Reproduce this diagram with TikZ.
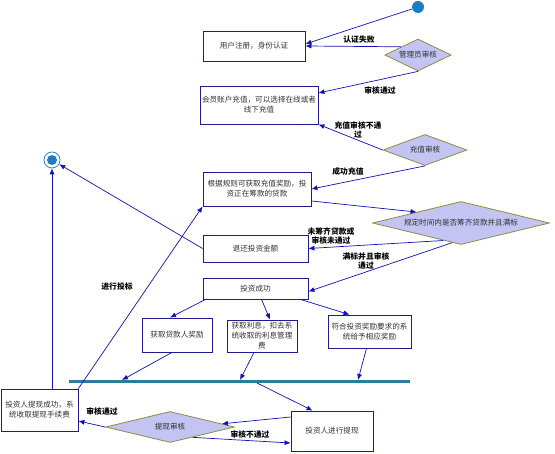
\documentclass[tikz,border=0pt]{standalone}
\usepackage{fontspec}
\setmainfont{Noto Sans CJK SC}
\usetikzlibrary{arrows.meta,shapes.geometric,calc}
\definecolor{boxline}{HTML}{1C1C8E}
\definecolor{arrline}{HTML}{1010B8}
\definecolor{diafill}{HTML}{C4C4F2}
\definecolor{dialine}{HTML}{8C8C46}
\definecolor{dotblue}{HTML}{1E7CC4}
\definecolor{barteal}{HTML}{2C7C9C}
\definecolor{txtgray}{HTML}{303030}

\begin{document}
\begin{tikzpicture}[x=1pt,y=-1pt,
  box/.style={draw=boxline,line width=0.8pt,align=center,inner sep=1pt,font=\fontsize{7.6}{10}\selectfont,text=txtgray},
  dia/.style={diamond,draw=dialine,fill=diafill,line width=0.8pt,inner sep=0pt,aspect=4,font=\fontsize{7.6}{10}\selectfont,text=txtgray},
  arr/.style={-{Latex[length=6pt,width=5pt]},draw=arrline,line width=0.7pt},
  lbl/.style={align=center,font=\bfseries\fontsize{7.8}{9.5}\selectfont,inner sep=0pt}]
\useasboundingbox (0,0) rectangle (555,454);
% start and end
\node[circle,fill=dotblue,minimum size=12pt,inner sep=0pt] (start) at (418,7) {};
\node[circle,draw=dotblue,line width=0.7pt,minimum size=16pt,inner sep=0pt] (end) at (52,160) {};
\fill[dotblue] (end) circle (5);
% boxes
\node[box,minimum width=102pt,minimum height=30pt] (reg) at (254,46) {用户注册，身份认证};
\node[box,minimum width=118pt,minimum height=38pt] (pay) at (259,105) {会员账户充值，可以选择在线或者\\线下充值};
\node[box,minimum width=108pt,minimum height=34pt] (bid) at (257,189) {根据规则可获取充值奖励，投\\资正在筹款的贷款};
\node[box,minimum width=105pt,minimum height=27pt] (back) at (255.5,248.5) {退还投资金额};
\node[box,minimum width=105pt,minimum height=21pt] (ok) at (255.5,288.5) {投资成功};
\node[box,minimum width=70pt,minimum height=34pt] (lend) at (177,335) {获取贷款人奖励};
\node[box,minimum width=70pt,minimum height=32pt] (rate) at (262,336) {获取利息，扣去系\\统收取的利息管理\\费};
\node[box,minimum width=83pt,minimum height=33pt] (prize) at (369.5,331.5) {符合投资奖励要求的系\\统给予相应奖励};
\node[box,minimum width=77pt,minimum height=42pt] (cash) at (39.5,410) {投资人提现成功，系\\统收取提现手续费};
\node[box,minimum width=82pt,minimum height=40pt] (ask) at (332,431) {投资人进行提现};
% decisions
\node[dia,minimum width=66pt,minimum height=32pt] (admin) at (418,55) {管理员审核};
\node[dia,minimum width=84pt,minimum height=31pt] (check) at (425,150) {充值审核};
\node[dia,minimum width=177pt,minimum height=43pt] (full) at (461,223) {规定时间内是否筹齐贷款并且满标};
\node[dia,minimum width=129pt,minimum height=31pt] (audit) at (170,427) {提现审核};
% sync bar
\node[fill=barteal,minimum width=341pt,minimum height=2.5pt,inner sep=0pt] (bar) at (239.5,381.5) {};
\coordinate (b1) at (122,380);
\coordinate (b2) at (240,380);
\coordinate (b3) at (358,380);
\coordinate (b4) at (257,383);
% connectors
\draw[arr] (start) -- ([yshift=2pt]reg.east);
\draw[arr] (admin.north west) -- (reg.east);
\node[lbl] at (359,40) {认证失败};
\draw[arr] (admin.south) -- ([yshift=12pt]pay.east);
\node[lbl] at (380,90) {审核通过};
\draw[arr] (check.west) -- (pay.south east);
\node[lbl] at (358,130) {充值审核不通\\过};
\draw[arr] (check.south) -- (bid.east);
\node[lbl] at (348,172) {成功充值};
\draw[arr] ([yshift=-12pt]bid.east) -- (full.north west);
\draw[arr] ($(full.south)!0.2!(full.west)$) -- (back.east);
\node[lbl] at (331,236) {未筹齐贷款或\\审核未通过};
\draw[arr] ($(full.south)!0.1!(full.west)$) -- ([yshift=-3pt]ok.east);
\node[lbl] at (366,261) {满标并且审核\\通过};
\draw[arr] (back.west) -- (end);
\draw[arr] (cash.north -| end) -- (end);
\draw[arr] (cash.north east) -- (bid.south west);
\node[lbl] at (117,287) {进行投标};
\draw[arr] ([xshift=3pt]ok.south west) -- ([xshift=-7pt]lend.north);
\draw[arr] ([xshift=6pt]ok.south) -- ([xshift=8pt]rate.north);
\draw[arr] ([xshift=-8pt]ok.south east) -- ([xshift=-20pt]prize.north);
\draw[arr] ([xshift=-5pt]lend.south) -- (b1);
\draw[arr] ([xshift=-8pt]rate.south) -- (b2);
\draw[arr] ([xshift=-3pt]prize.south) -- (b3);
\draw[arr] (b4) -- ([xshift=22pt]ask.north west);
\draw[arr] ([yshift=14pt]ask.west) -- ($(audit.east)!0.2!(audit.north)$);
\draw[arr] ($(audit.south)!0.35!(audit.east)$) -- ([yshift=-12pt]ask.west);
\node[lbl] at (250,434) {审核不通过};
\draw[arr] (audit.west) -- ([yshift=-11pt]cash.east);
\node[lbl] at (102,411) {审核通过};
\end{tikzpicture}
\end{document}
